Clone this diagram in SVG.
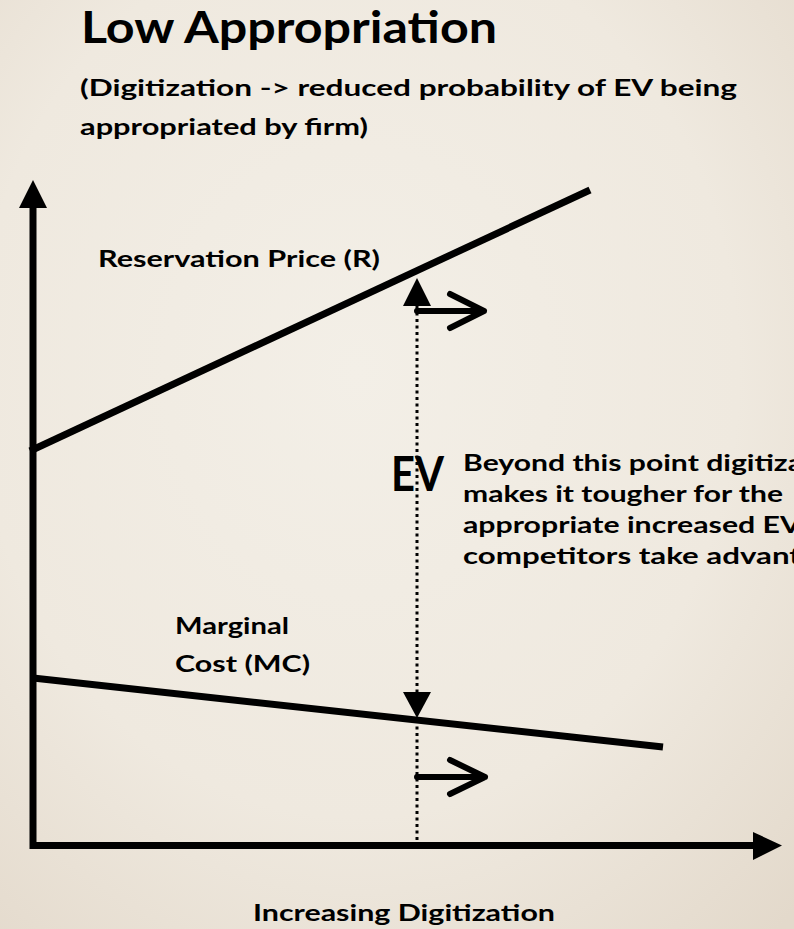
<svg xmlns="http://www.w3.org/2000/svg" width="794" height="929" viewBox="0 0 794 929">
<defs>
<radialGradient id="bg" cx="0.45" cy="0.4" r="0.8">
<stop offset="0" stop-color="#f3efe7"/>
<stop offset="0.6" stop-color="#efe9df"/>
<stop offset="1" stop-color="#e3d9cb"/>
</radialGradient>
</defs>
<style>
text{font-family:Lato,"Open Sans","Liberation Sans",sans-serif;font-weight:bold;fill:#000}
.t{font-size:43px}
.s{font-size:23px}
.ev{font-size:48px}
.ax{stroke:#000;stroke-width:7;fill:none}
.ln{stroke:#000;stroke-width:7;fill:none}
.dot{stroke:#000;stroke-width:3;stroke-dasharray:3 3.5;fill:none}
.chev{stroke:#000;stroke-width:6;fill:none;stroke-linecap:round;stroke-linejoin:round}
.head{fill:#000}
</style>
<rect width="794" height="929" fill="url(#bg)"/>
<g id="title">
<text class="t" x="81" y="43" textLength="416" lengthAdjust="spacingAndGlyphs">Low Appropriation</text>
<text class="s" x="80" y="96" textLength="657" lengthAdjust="spacingAndGlyphs">(Digitization  -&gt; reduced probability of EV being</text>
<text class="s" x="80" y="135" textLength="288" lengthAdjust="spacingAndGlyphs">appropriated  by firm)</text>
</g>
<g id="connectors">
<line class="ax" x1="33" y1="207" x2="33" y2="849"/>
<path class="head" d="M33,180 L47,208 L19,208 Z"/>
<line class="ax" x1="30" y1="845.5" x2="754" y2="845.5"/>
<path class="head" d="M782,845.5 L753,832 L753,860 Z"/>
<line class="dot" x1="417" y1="306" x2="417" y2="692"/>
<line class="dot" x1="417" y1="720" x2="417" y2="842"/>
<path class="head" d="M417,278 L431,306 L403,306 Z"/>
<path class="head" d="M417,718 L431,692 L403,692 Z"/>
<path class="chev" d="M417,311 H484 M450,294 L484,311 L450,328"/>
<path class="chev" d="M417,777 H485 M450,760 L485,777 L450,794"/>
</g>
<g id="reservation">
<line class="ln" x1="30" y1="451" x2="590" y2="190"/>
<text class="s" x="98" y="267" textLength="282" lengthAdjust="spacingAndGlyphs">Reservation Price (R)</text>
</g>
<g id="marginal">
<line class="ln" x1="33" y1="678" x2="663" y2="747"/>
<text class="s" x="175" y="634" textLength="114" lengthAdjust="spacingAndGlyphs">Marginal</text>
<text class="s" x="175" y="672" textLength="135" lengthAdjust="spacingAndGlyphs">Cost (MC)</text>
</g>
<g id="ev">
<text class="ev" x="391" y="491" textLength="53" lengthAdjust="spacingAndGlyphs">EV</text>
</g>
<g id="note">
<text class="s" x="463" y="471" textLength="340" lengthAdjust="spacingAndGlyphs">Beyond this point digitiza</text>
<text class="s" x="463" y="502" textLength="320" lengthAdjust="spacingAndGlyphs">makes it tougher for the</text>
<text class="s" x="463" y="533" textLength="338" lengthAdjust="spacingAndGlyphs">appropriate increased EV</text>
<text class="s" x="463" y="564" textLength="338" lengthAdjust="spacingAndGlyphs">competitors  take advant</text>
</g>
<g id="xlabel">
<text class="s" x="253" y="921" textLength="302" lengthAdjust="spacingAndGlyphs">Increasing  Digitization</text>
</g>
</svg>
